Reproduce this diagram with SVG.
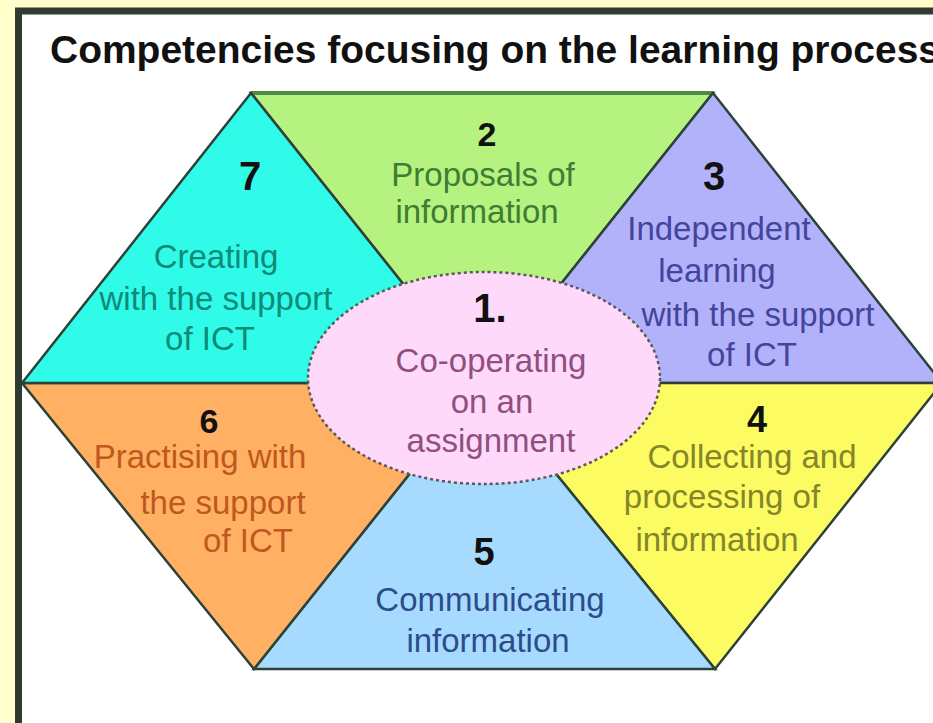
<svg xmlns="http://www.w3.org/2000/svg" width="933" height="723" viewBox="0 0 933 723">
<style>
.tri{stroke:#2c4238;stroke-width:2.5;stroke-linejoin:miter}
.num{font-family:"Liberation Sans",Arial,sans-serif;font-weight:bold;fill:#111;text-anchor:middle}
.lbl{font-family:"Liberation Sans",Arial,sans-serif;font-size:33px;text-anchor:middle}
</style>
<rect x="0" y="0" width="933" height="723" fill="#ffffcc"/>
<rect x="18.5" y="11" width="1000" height="800" fill="#ffffff" stroke="#2f3a30" stroke-width="7"/>
<text x="50" y="63" font-family="'Liberation Sans',Arial,sans-serif" font-weight="bold" font-size="38" fill="#111" textLength="890" lengthAdjust="spacingAndGlyphs">Competencies focusing on the learning process</text>

<g id="node2">
<polygon class="tri" points="251,93 713,93 482,383" fill="#b6f27f"/>
<line x1="251" y1="93" x2="713" y2="93" stroke="#4f8a45" stroke-width="4"/>
<text class="num" x="487" y="146" font-size="34">2</text>
<text class="lbl" x="483" y="186" fill="#3f7d35">Proposals of</text>
<text class="lbl" x="477" y="223" fill="#3f7d35">information</text>
</g>
<g id="node3">
<polygon class="tri" points="713,93 942,383 482,383" fill="#b2b2fb"/>
<text class="num" x="714" y="190" font-size="40">3</text>
<text class="lbl" x="719" y="240" fill="#44449a">Independent</text>
<text class="lbl" x="717" y="282" fill="#44449a">learning</text>
<text class="lbl" x="758" y="326" fill="#44449a">with the support</text>
<text class="lbl" x="752" y="366" fill="#44449a">of ICT</text>
</g>
<g id="node4">
<polygon class="tri" points="482,383 942,383 715,669" fill="#fcfc62"/>
<text class="num" x="757" y="432" font-size="36">4</text>
<text class="lbl" x="752" y="468" fill="#85852a">Collecting and</text>
<text class="lbl" x="722" y="508" fill="#85852a">processing of</text>
<text class="lbl" x="717" y="551" fill="#85852a">information</text>
</g>
<g id="node5">
<polygon class="tri" points="482,383 715,669 254,669" fill="#a6dbff"/>
<text class="num" x="484" y="565" font-size="38">5</text>
<text class="lbl" x="490" y="611" fill="#2d4c8a">Communicating</text>
<text class="lbl" x="488" y="652" fill="#2d4c8a">information</text>
</g>
<g id="node6">
<polygon class="tri" points="22,383 482,383 254,669" fill="#ffb062"/>
<text class="num" x="209" y="433" font-size="34">6</text>
<text class="lbl" x="200" y="468" fill="#c0581e">Practising with</text>
<text class="lbl" x="223" y="514" fill="#c0581e">the support</text>
<text class="lbl" x="248" y="552" fill="#c0581e">of ICT</text>
</g>
<g id="node7">
<polygon class="tri" points="251,93 482,383 22,383" fill="#30fbe8"/>
<text class="num" x="250" y="190" font-size="40">7</text>
<text class="lbl" x="216" y="268" fill="#0d8a78">Creating</text>
<text class="lbl" x="216" y="310" fill="#0d8a78">with the support</text>
<text class="lbl" x="210" y="350" fill="#0d8a78">of ICT</text>
</g>
<g id="node1">
<ellipse cx="484" cy="378" rx="176" ry="106" fill="#ffd9f9" stroke="#5a5a5a" stroke-width="2.5" stroke-dasharray="3 3"/>
<text class="num" x="490" y="322" font-size="40">1.</text>
<text class="lbl" x="491" y="372" fill="#8f4f80">Co-operating</text>
<text class="lbl" x="492" y="413" fill="#8f4f80">on an</text>
<text class="lbl" x="491" y="452" fill="#8f4f80">assignment</text>
</g>
<g id="connectors"/>
</svg>
